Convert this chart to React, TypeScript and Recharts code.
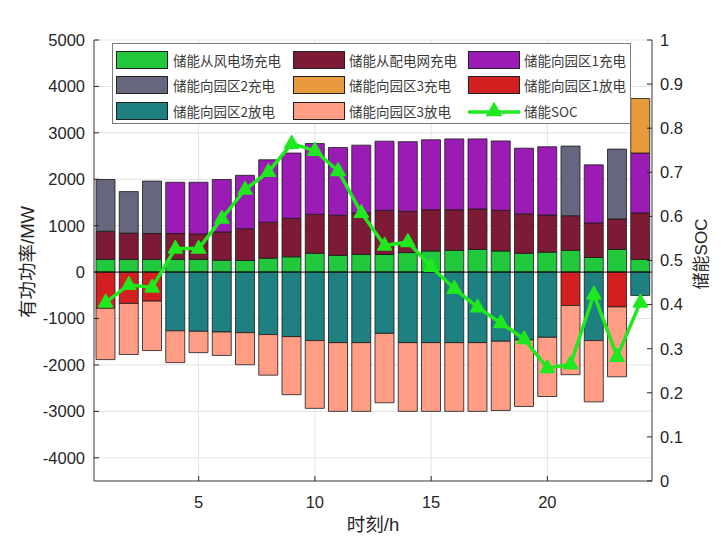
import React from 'react';
import { ComposedChart, Bar, Line, XAxis, YAxis, CartesianGrid, ReferenceLine, Legend, Label } from 'recharts';

if (typeof document !== 'undefined') document.body.style.margin = '0';

// hourly power balance (MW), stacked segment heights
const hours = [1, 2, 3, 4, 5, 6, 7, 8, 9, 10, 11, 12, 13, 14, 15, 16, 17, 18, 19, 20, 21, 22, 23, 24];
const windCharge = [275, 275, 275, 275, 275, 255, 250, 300, 330, 405, 360, 380, 380, 420, 455, 470, 490, 455, 405, 430, 470, 315, 490, 275];
const gridCharge = [605, 565, 555, 555, 545, 610, 685, 775, 830, 840, 865, 895, 950, 890, 890, 875, 870, 875, 850, 800, 745, 745, 655, 1000];
const park1Charge = [0, 0, 0, 1105, 1115, 1130, 1150, 1345, 1405, 1525, 1460, 1460, 1490, 1500, 1505, 1525, 1510, 1495, 1415, 1470, 0, 1250, 0, 1290];
const park2Charge = [1115, 895, 1130, 0, 0, 0, 0, 0, 0, 0, 0, 0, 0, 0, 0, 0, 0, 0, 0, 0, 1500, 0, 1505, 0];
const park3Charge = [0, 0, 0, 0, 0, 0, 0, 0, 0, 0, 0, 0, 0, 0, 0, 0, 0, 0, 0, 0, 0, 0, 0, 1175];
const park1Dis = [-780, -675, -625, 0, 0, 0, 0, 0, 0, 0, 0, 0, 0, 0, 0, 0, 0, 0, 0, 0, -720, 0, -750, 0];
const park2Dis = [0, 0, 0, -1265, -1275, -1290, -1305, -1345, -1390, -1475, -1520, -1520, -1320, -1520, -1520, -1520, -1520, -1490, -1460, -1405, 0, -1475, 0, -505];
const park3Dis = [-1105, -1100, -1065, -685, -460, -505, -690, -875, -1250, -1460, -1480, -1480, -1495, -1480, -1480, -1480, -1480, -1490, -1435, -1275, -1490, -1320, -1505, 0];
const soc = [0.405, 0.445, 0.439, 0.527, 0.527, 0.595, 0.661, 0.701, 0.765, 0.749, 0.703, 0.608, 0.534, 0.542, 0.486, 0.436, 0.394, 0.358, 0.322, 0.256, 0.265, 0.423, 0.282, 0.405];

const leftTicks = [-4000, -3000, -2000, -1000, 0, 1000, 2000, 3000, 4000, 5000];
const rightTicks = [0, 0.1, 0.2, 0.3, 0.4, 0.5, 0.6, 0.7, 0.8, 0.9, 1];
const xTicks = [5, 10, 15, 20];

const seriesKeys = ['windCharge', 'gridCharge', 'park1Charge', 'park2Charge', 'park3Charge', 'park1Dis', 'park2Dis', 'park3Dis', 'soc'];
const seriesNames = ['储能从风电场充电', '储能从配电网充电', '储能向园区1充电', '储能向园区2充电', '储能向园区3充电', '储能向园区1放电', '储能向园区2放电', '储能向园区3放电', '储能SOC'];
const seriesColors = ['#22C83C', '#7D1A35', '#9B1BB5', '#66667F', '#E89A3C', '#D21F1F', '#1E8080', '#FF9E85', '#1FE81F'];

const data = hours.map((h, i) => ({
  hour: h,
  windCharge: windCharge[i],
  gridCharge: gridCharge[i],
  park1Charge: park1Charge[i],
  park2Charge: park2Charge[i],
  park3Charge: park3Charge[i],
  park1Dis: park1Dis[i],
  park2Dis: park2Dis[i],
  park3Dis: park3Dis[i],
  soc: soc[i],
}));

const FONT = '"Liberation Sans", Arial, "Noto Sans CJK SC", sans-serif';
const TEXT = '#262626';
const SOC_COLOR = seriesColors[8];
const tickStyle = { fontSize: 16.5, fill: TEXT, fontFamily: FONT };

const Triangle = (props: any) => {
  const { cx, cy } = props;
  if (cx == null || cy == null) return null;
  return (
    <polygon
      points={`${cx},${cy - 8} ${cx - 7},${cy + 4.5} ${cx + 7},${cy + 4.5}`}
      fill={SOC_COLOR} stroke={SOC_COLOR} strokeWidth={1.5} strokeLinejoin="round"
    />
  );
};

const swatchX = [3, 180, 355];
const textX = [60, 236, 411];
const rowY = [16, 41, 67];

const LegendBox = () => (
  <div style={{ position: 'relative', width: 519, height: 81, background: '#fff', border: '1px solid #7a7a7a', boxSizing: 'border-box', fontFamily: '"Noto Sans CJK SC", sans-serif', fontSize: 13.5, color: '#3a3a3a' }}>
    {seriesNames.map((name, i) => {
      const col = i % 3;
      const row = Math.floor(i / 3);
      const cy = rowY[row];
      return (
        <React.Fragment key={name}>
          {i < 8 ? (
            <div style={{ position: 'absolute', left: swatchX[col], top: cy - 9, width: 52, height: 18, background: seriesColors[i], border: '1px solid #222', boxSizing: 'border-box' }} />
          ) : (
            <svg style={{ position: 'absolute', left: swatchX[col], top: cy - 10 }} width={52} height={20}>
              <line x1={0} y1={11} x2={52} y2={11} stroke={SOC_COLOR} strokeWidth={3.5} />
              <polygon points="26,2 19,14.5 33,14.5" fill={SOC_COLOR} stroke={SOC_COLOR} strokeWidth={1.5} />
            </svg>
          )}
          <div style={{ position: 'absolute', left: textX[col], top: cy - 10, lineHeight: '20px', whiteSpace: 'nowrap' }}>{name}</div>
        </React.Fragment>
      );
    })}
  </div>
);

export default function App() {
  return (
    <ComposedChart
      width={722}
      height={541}
      data={data}
      stackOffset="sign"
      margin={{ top: 40, right: 20, bottom: 30, left: 34 }}
      style={{ background: '#fff' }}
    >
      <CartesianGrid xAxisId="bottom" yAxisId="left" stroke="#e3e3e3" strokeWidth={1} />
      <XAxis
        xAxisId="bottom" dataKey="hour" type="number" domain={[0.5, 24.5]} ticks={xTicks}
        height={30} tick={tickStyle} tickSize={-5} tickMargin={20}
        stroke={TEXT} tickLine={{ stroke: TEXT }} axisLine={{ stroke: '#444' }}
      >
        <Label content={() => (
          <text x={373} y={531} textAnchor="middle" fontSize={18.5} fill={TEXT} fontFamily={FONT}>时刻/h</text>
        )} />
      </XAxis>
      <XAxis
        xAxisId="top" orientation="top" dataKey="hour" type="number" domain={[0.5, 24.5]} ticks={xTicks}
        height={0} tick={false} tickSize={-5} stroke={TEXT} axisLine={{ stroke: '#444' }}
      >
        <Label content={() => (
          <text x={373} y={33} textAnchor="middle" fontSize={18.5} fill={TEXT} fontFamily={FONT}>储能电站电功率平衡</text>
        )} />
      </XAxis>
      <YAxis
        yAxisId="left" type="number" domain={[-4500, 5000]} ticks={leftTicks} allowDataOverflow
        width={60} tick={tickStyle} tickSize={-5} tickMargin={14}
        stroke={TEXT} axisLine={{ stroke: '#444' }}
      >
        <Label content={() => (
          <text x={27} y={262} transform="rotate(-90, 27, 262)" textAnchor="middle" dominantBaseline="central" fontSize={18.5} fill={TEXT} fontFamily={FONT}>有功功率/MW</text>
        )} />
      </YAxis>
      <YAxis
        yAxisId="right" orientation="right" type="number" domain={[0, 1]} ticks={rightTicks} allowDataOverflow
        width={50} tick={tickStyle} tickSize={-5} tickMargin={13}
        stroke={TEXT} axisLine={{ stroke: '#444' }}
      >
        <Label content={() => (
          <text x={701} y={254} transform="rotate(-90, 701, 254)" textAnchor="middle" dominantBaseline="central" fontSize={17} fill={TEXT} fontFamily={FONT}>储能SOC</text>
        )} />
      </YAxis>
      {seriesKeys.slice(0, 8).map((k, i) => (
        <Bar
          key={k} dataKey={k} name={seriesNames[i]} stackId="p" xAxisId="bottom" yAxisId="left"
          fill={seriesColors[i]} stroke="#1a1a1a" strokeWidth={0.8} barSize={19}
          isAnimationActive={false}
        />
      ))}
      <ReferenceLine xAxisId="bottom" yAxisId="left" y={0} stroke="#111" strokeWidth={1} />
      <Line
        dataKey="soc" name={seriesNames[8]} xAxisId="bottom" yAxisId="right" type="linear"
        stroke={SOC_COLOR} strokeWidth={3.5} dot={<Triangle />} activeDot={false}
        isAnimationActive={false}
      />
      <Legend
        verticalAlign="middle" align="center" layout="horizontal"
        wrapperStyle={{ position: 'absolute', top: 43, left: 112, width: 519, height: 81 }}
        content={() => <LegendBox />}
      />
    </ComposedChart>
  );
}
